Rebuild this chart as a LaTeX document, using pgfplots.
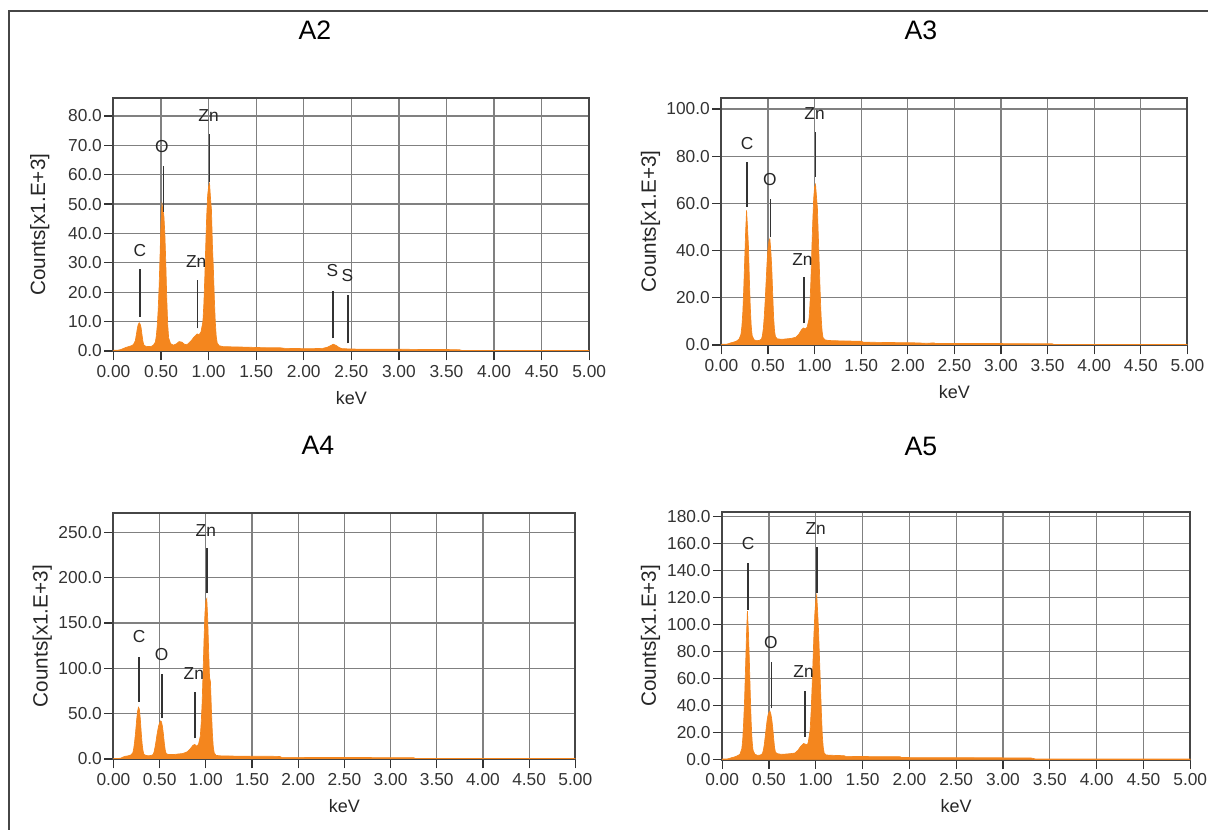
\documentclass[border=0pt]{standalone}
\usepackage{fontspec}
\setmainfont{Liberation Sans}
\usepackage{pgfplots}
\pgfplotsset{compat=1.18}
\definecolor{edsorange}{RGB}{244,134,30}
\definecolor{framegray}{RGB}{70,70,70}
\tikzset{
  el/.style={font=\fontsize{13}{15}\selectfont, text=black!85, inner sep=0pt},
  elline/.style={draw=black!80, line width=1.1pt},
  eds/.style={draw=edsorange, fill=edsorange, line width=0.5pt},
}
\pgfplotsset{
  edsaxis/.style={
    scale only axis, anchor=south west,
    xmin=0, xmax=5, ymin=0,
    xtick={0,0.5,1,1.5,2,2.5,3,3.5,4,4.5,5},
    scaled ticks=false,
    grid=major,
    major grid style={draw=black!50, line width=0.9pt},
    axis line style={draw=framegray, line width=1.5pt},
    tick style={draw=black!80, line width=0.9pt},
    tick align=outside, major tick length=7pt,
    xtick pos=left, ytick pos=left,
    /pgf/number format/assume math mode=true,
    tick label style={font=\fontsize{13}{15}\selectfont, text=black!80},
    xticklabel style={/pgf/number format/.cd, fixed, fixed zerofill, precision=2},
    yticklabel style={/pgf/number format/.cd, fixed, fixed zerofill, precision=1, /tikz/inner sep=1.5pt},
    xlabel={keV}, ylabel={Counts[x1.E+3]},
    xlabel style={at={(axis description cs:0.5,0)}, anchor=center, yshift=-35pt, font=\fontsize{13.5}{15}\selectfont, text=black!85},
    ylabel style={anchor=center, font=\fontsize{15.5}{17}\selectfont, text=black!85},
  },
}
\begin{document}
\begin{tikzpicture}
\useasboundingbox (0,0) rectangle (906pt,622.5pt);
\draw[framegray, line width=1.5pt] (6.75pt,0pt) -- (6.75pt,614.25pt) -- (906pt,614.25pt);

\node[font=\fontsize{20}{24}\selectfont] at (236.25pt,600pt) {A2};
\node[font=\fontsize{20}{24}\selectfont] at (690.75pt,600pt) {A3};
\node[font=\fontsize{20}{24}\selectfont] at (238.5pt,288.5pt) {A4};
\node[font=\fontsize{20}{24}\selectfont] at (690.75pt,288pt) {A5};

% ---------------- A2 ----------------
\begin{axis}[edsaxis, at={(85.1pt,359.25pt)}, width=356.8pt, height=189.5pt,
  ymax=86, ytick={0,10,20,30,40,50,60,70,80},
  ylabel style={at={(axis description cs:-0.155,0.5)}}]
\addplot[eds] coordinates {
(0.00,0.3)(0.05,0.3)(0.08,0.5)(0.10,0.8)(0.13,1.2)(0.16,1.5)(0.19,1.8)(0.21,2.2)(0.23,3.5)(0.24,5.5)(0.25,7.5)(0.26,9.0)(0.27,9.6)(0.28,9.2)(0.29,8.0)(0.30,5.5)(0.31,3.2)(0.32,2.0)(0.34,1.6)(0.37,1.5)(0.40,1.6)(0.42,2.0)(0.44,3.0)(0.45,5.0)(0.46,8.5)(0.47,14)(0.48,22)(0.49,33)(0.50,44)(0.51,50)(0.52,48)(0.53,46)(0.54,40)(0.55,30)(0.56,18)(0.57,9)(0.58,4.5)(0.60,2.5)(0.63,2.0)(0.66,2.4)(0.69,3.2)(0.72,3.0)(0.75,2.2)(0.78,2.3)(0.80,3.0)(0.82,3.6)(0.84,4.5)(0.86,5.2)(0.88,5.8)(0.90,5.5)(0.92,6.5)(0.94,10)(0.95,16)(0.96,25)(0.97,36)(0.98,46)(0.99,53)(1.00,56)(1.01,57)(1.02,52)(1.03,48)(1.04,36)(1.05,28)(1.06,18)(1.07,10)(1.08,5)(1.09,2.8)(1.11,1.8)(1.15,1.5)(1.25,1.4)(1.40,1.3)(1.50,1.2)(1.60,1.1)(1.75,1.1)(1.80,0.9)(2.00,0.8)(2.10,0.8)(2.20,0.9)(2.25,1.3)(2.28,1.8)(2.31,2.3)(2.34,1.9)(2.37,1.2)(2.40,0.8)(2.48,0.7)(2.60,0.6)(3.00,0.6)(3.30,0.5)(3.50,0.5)(3.64,0.4)(3.66,0.2)(5.00,0.2)
} \closedcycle;
\addplot[elline] coordinates {(0.277,11.7)(0.277,27.8)};
\addplot[elline] coordinates {(0.525,47.4)(0.525,62.9)};
\addplot[elline] coordinates {(1.012,57.6)(1.012,73.8)};
\addplot[elline] coordinates {(0.884,7.7)(0.884,24.1)};
\addplot[elline] coordinates {(2.307,4.3)(2.307,20.4)};
\addplot[elline] coordinates {(2.464,2.6)(2.464,18.9)};
\node[el] at (axis cs:0.277,34.3) {C};
\node[el] at (axis cs:0.51,69.5) {O};
\node[el] at (axis cs:1.0,80) {Zn};
\node[el] at (axis cs:0.87,30.4) {Zn};
\node[el] at (axis cs:2.30,27.3) {S};
\node[el] at (axis cs:2.46,25.8) {S};
\node[el, anchor=south west, yshift=1pt] at (rel axis cs:0,1) {[MAP 1]};
\end{axis}

% ---------------- A3 ----------------
\begin{axis}[edsaxis, at={(541.05pt,363.75pt)}, width=349.5pt, height=185.5pt,
  ymax=104.8, ytick={0,20,40,60,80,100},
  ylabel style={at={(axis description cs:-0.152,0.5)}}]
\addplot[eds] coordinates {
(0.00,0.3)(0.05,0.3)(0.08,0.6)(0.10,0.9)(0.13,1.2)(0.16,1.6)(0.19,2.5)(0.21,4.5)(0.22,8)(0.23,14)(0.24,24)(0.25,36)(0.26,48)(0.27,57)(0.28,50)(0.29,42)(0.30,28)(0.31,16)(0.32,8)(0.33,4)(0.35,2.2)(0.38,1.8)(0.41,2.0)(0.43,2.5)(0.44,4)(0.45,7)(0.46,12)(0.47,19)(0.48,27)(0.49,35)(0.50,41)(0.51,44)(0.52,45)(0.53,40)(0.54,33)(0.55,22)(0.56,12)(0.57,6)(0.58,3.5)(0.60,2.6)(0.65,2.4)(0.70,2.6)(0.75,2.8)(0.80,3.3)(0.83,4.5)(0.86,6.5)(0.88,7.2)(0.90,6.8)(0.92,7.5)(0.94,11)(0.95,17)(0.96,27)(0.97,40)(0.98,52)(0.99,62)(1.00,67)(1.01,68)(1.02,63)(1.03,58)(1.04,46)(1.05,34)(1.06,22)(1.07,12)(1.08,6)(1.09,3.2)(1.11,2.2)(1.15,1.9)(1.30,1.7)(1.50,1.6)(1.52,1.2)(1.70,1.1)(1.90,1.0)(2.10,0.9)(2.20,0.7)(2.28,0.9)(2.30,0.6)(2.60,0.6)(3.00,0.6)(3.40,0.5)(3.55,0.5)(3.57,0.2)(5.00,0.2)
} \closedcycle;
\addplot[elline] coordinates {(0.277,58.6)(0.277,77.4)};
\addplot[elline] coordinates {(0.525,45.9)(0.525,61.7)};
\addplot[elline] coordinates {(1.012,71.3)(1.012,90.1)};
\addplot[elline] coordinates {(0.884,9.2)(0.884,28.7)};
\node[el] at (axis cs:0.277,85.5) {C};
\node[el] at (axis cs:0.52,70.3) {O};
\node[el] at (axis cs:1.0,98.2) {Zn};
\node[el] at (axis cs:0.87,36.4) {Zn};
\node[el, anchor=south west, yshift=1pt] at (rel axis cs:0,1) {[MAP 1]};
\end{axis}

% ---------------- A4 ----------------
\begin{axis}[edsaxis, at={(85.1pt,53.25pt)}, width=346.4pt, height=184.3pt,
  ymax=271, ytick={0,50,100,150,200,250},
  ylabel style={at={(axis description cs:-0.154,0.5)}}]
\addplot[eds] coordinates {
(0.00,0.5)(0.05,0.5)(0.08,1.0)(0.10,2)(0.13,3)(0.16,3.5)(0.19,4.5)(0.21,7)(0.22,12)(0.23,20)(0.24,30)(0.25,42)(0.26,52)(0.27,57)(0.28,55)(0.29,45)(0.30,30)(0.31,17)(0.32,9)(0.33,5)(0.35,4)(0.38,3.5)(0.41,4)(0.43,5)(0.44,8)(0.45,13)(0.46,19)(0.47,26)(0.48,32)(0.49,37)(0.50,40)(0.51,42)(0.52,41)(0.53,36)(0.54,28)(0.55,18)(0.56,10)(0.57,6)(0.59,5)(0.62,5)(0.66,5)(0.70,5.5)(0.75,6)(0.80,8)(0.83,11)(0.86,15)(0.88,16)(0.90,14)(0.92,16)(0.94,25)(0.95,40)(0.96,62)(0.97,95)(0.98,130)(0.99,160)(1.00,175)(1.01,177)(1.02,155)(1.03,120)(1.04,90)(1.05,85)(1.06,55)(1.07,30)(1.08,14)(1.09,7)(1.11,4)(1.15,3.5)(1.30,3.2)(1.50,3)(1.70,3)(1.80,2.8)(1.82,1.8)(2.20,1.7)(2.60,1.6)(3.00,1.5)(3.25,1.4)(3.27,0.5)(5.00,0.5)
} \closedcycle;
\addplot[elline] coordinates {(0.277,63)(0.277,112.8)};
\addplot[elline] coordinates {(0.525,44.8)(0.525,93.4)};
\addplot[elline] coordinates {(1.012,182.7)(1.012,232.3)};
\addplot[elline] coordinates {(0.884,22.8)(0.884,73.5)};
\node[el] at (axis cs:0.277,134.9) {C};
\node[el] at (axis cs:0.52,115.4) {O};
\node[el] at (axis cs:1.0,251.7) {Zn};
\node[el] at (axis cs:0.87,94.5) {Zn};
\node[el, anchor=south west, yshift=1pt] at (rel axis cs:0,1) {[MAP 1]};
\end{axis}

% ---------------- A5 ----------------
\begin{axis}[edsaxis, at={(541.6pt,52.7pt)}, width=351.1pt, height=186pt,
  ymax=183.7, ytick={0,20,40,60,80,100,120,140,160,180},
  ylabel style={at={(axis description cs:-0.153,0.5)}}]
\addplot[eds] coordinates {
(0.00,0.5)(0.05,0.5)(0.08,1.0)(0.10,1.5)(0.13,2.0)(0.16,2.8)(0.19,4)(0.21,8)(0.22,15)(0.23,28)(0.24,45)(0.25,68)(0.26,92)(0.27,110)(0.28,96)(0.29,75)(0.30,50)(0.31,28)(0.32,14)(0.33,7)(0.35,4)(0.38,3.2)(0.41,3.5)(0.43,4.5)(0.44,7)(0.45,11)(0.46,17)(0.47,23)(0.48,29)(0.49,33)(0.50,35)(0.51,36)(0.52,34)(0.53,30)(0.54,24)(0.55,16)(0.56,9)(0.57,5.5)(0.59,4.5)(0.63,4)(0.68,4.2)(0.73,4.5)(0.78,5)(0.81,7)(0.84,10)(0.87,12)(0.89,11.5)(0.91,11)(0.92,13)(0.94,22)(0.95,35)(0.96,52)(0.97,72)(0.98,92)(0.99,108)(1.00,118)(1.01,122)(1.02,110)(1.03,95)(1.04,75)(1.05,55)(1.06,35)(1.07,18)(1.08,9)(1.09,5)(1.11,3.5)(1.20,3.2)(1.30,3)(1.32,2.5)(1.60,2.3)(1.90,2.2)(1.92,1.6)(2.50,1.5)(3.00,1.4)(3.30,1.3)(3.35,0.5)(5.00,0.5)
} \closedcycle;
\addplot[elline] coordinates {(0.277,110.9)(0.277,145.5)};
\addplot[elline] coordinates {(0.525,38)(0.525,72.6)};
\addplot[elline] coordinates {(1.012,123.2)(1.012,157.8)};
\addplot[elline] coordinates {(0.884,17)(0.884,51.1)};
\node[el] at (axis cs:0.277,160) {C};
\node[el] at (axis cs:0.52,87) {O};
\node[el] at (axis cs:1.0,171.4) {Zn};
\node[el] at (axis cs:0.87,65.2) {Zn};
\node[el, anchor=south west, yshift=1pt] at (rel axis cs:0,1) {[MAP 1]};
\end{axis}
\end{tikzpicture}
\end{document}
